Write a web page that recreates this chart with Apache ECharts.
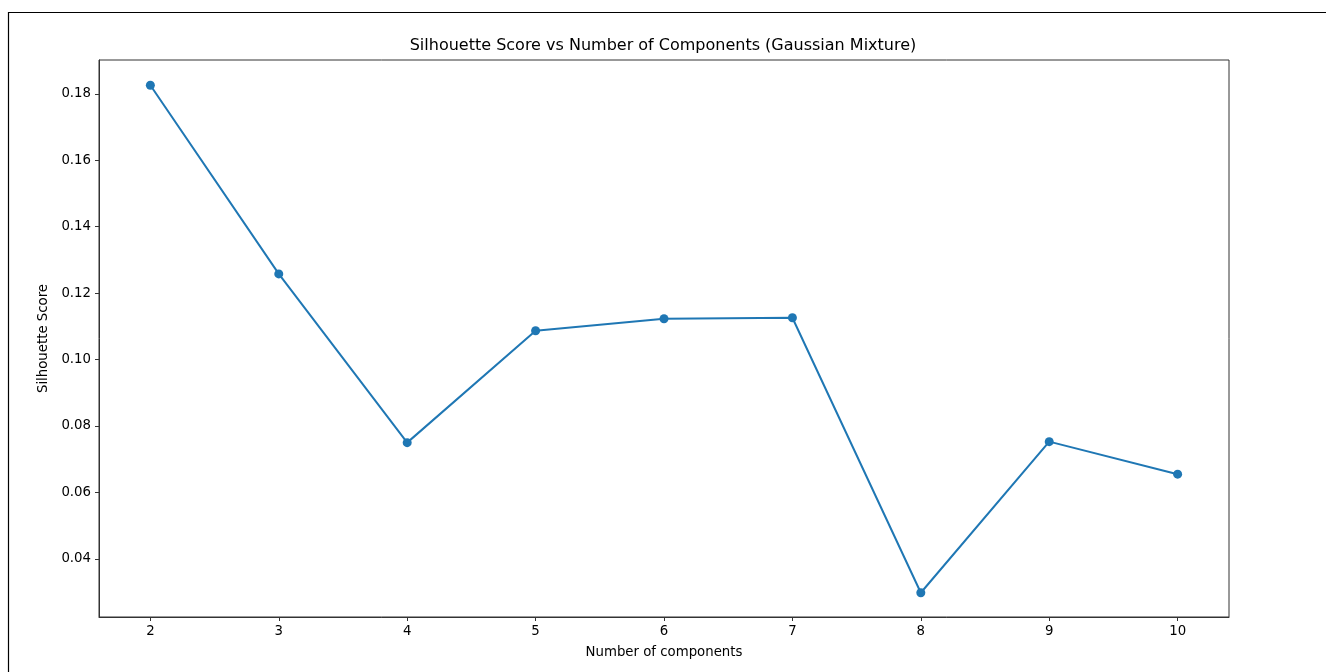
<!DOCTYPE html>
<html>
<head>
<meta charset="utf-8">
<script src="https://cdn.jsdelivr.net/npm/echarts@6/dist/echarts.min.js"></script>
<style>
  html, body { margin: 0; padding: 0; background: #fff; }
  #chart { width: 1326px; height: 672px; }
</style>
</head>
<body>
<div id="chart"></div>
<script>
// Number of mixture components tried and the silhouette score for each fit
const components = [2, 3, 4, 5, 6, 7, 8, 9, 10];
const silhouette = [0.1826, 0.1258, 0.0750, 0.1087, 0.1123, 0.1126, 0.0298, 0.0753, 0.0655];
const xTicks = [2, 3, 4, 5, 6, 7, 8, 9, 10];
const yTicks = [0.04, 0.06, 0.08, 0.10, 0.12, 0.14, 0.16, 0.18];

const font = 'DejaVu Sans';
const chart = echarts.init(document.getElementById('chart'), null, { renderer: 'canvas' });

chart.setOption({
  animation: false,
  backgroundColor: '#fff',
  title: {
    text: 'Silhouette Score vs Number of Components (Gaussian Mixture)',
    left: 'center',
    top: 38,
    padding: 0,
    textStyle: { fontFamily: font, fontSize: 16, fontWeight: 'normal', color: '#000' }
  },
  graphic: [{
    type: 'rect',
    shape: { x: 8.5, y: 12.5, width: 1400, height: 700 },
    style: { fill: 'none', stroke: '#000', lineWidth: 1.2 },
    silent: true
  }],
  grid: {
    left: 99, right: 97, top: 60, bottom: 55,
    show: true, borderColor: '#333', borderWidth: 1, backgroundColor: 'transparent'
  },
  xAxis: {
    type: 'value',
    min: 1.6, max: 10.4,
    name: 'Number of components',
    nameLocation: 'middle',
    nameGap: 29,
    nameTextStyle: { fontFamily: font, fontSize: 13.3, color: '#000' },
    axisLine: { show: true, lineStyle: { color: '#333', width: 1 } },
    axisTick: { show: true, length: 4, customValues: xTicks, lineStyle: { color: '#333' } },
    axisLabel: {
      customValues: xTicks, margin: 8,
      fontFamily: font, fontSize: 13.3, color: '#000'
    },
    splitLine: { show: false }
  },
  yAxis: {
    type: 'value',
    min: 0.0225, max: 0.1902,
    name: 'Silhouette Score',
    nameLocation: 'middle',
    nameGap: 47,
    nameRotate: 90,
    nameTextStyle: { fontFamily: font, fontSize: 13.3, color: '#000' },
    axisLine: { show: true, lineStyle: { color: '#333', width: 1 } },
    axisTick: { show: true, length: 4, customValues: yTicks, lineStyle: { color: '#333' } },
    axisLabel: {
      customValues: yTicks, margin: 8,
      fontFamily: font, fontSize: 13.3, color: '#000',
      formatter: v => v.toFixed(2)
    },
    splitLine: { show: false }
  },
  series: [{
    type: 'line',
    data: components.map((c, i) => [c, silhouette[i]]),
    color: '#1f77b4',
    lineStyle: { width: 2, color: '#1f77b4' },
    symbol: 'circle',
    symbolSize: 9,
    showAllSymbol: true,
    itemStyle: { color: '#1f77b4' }
  }]
});
</script>
</body>
</html>
